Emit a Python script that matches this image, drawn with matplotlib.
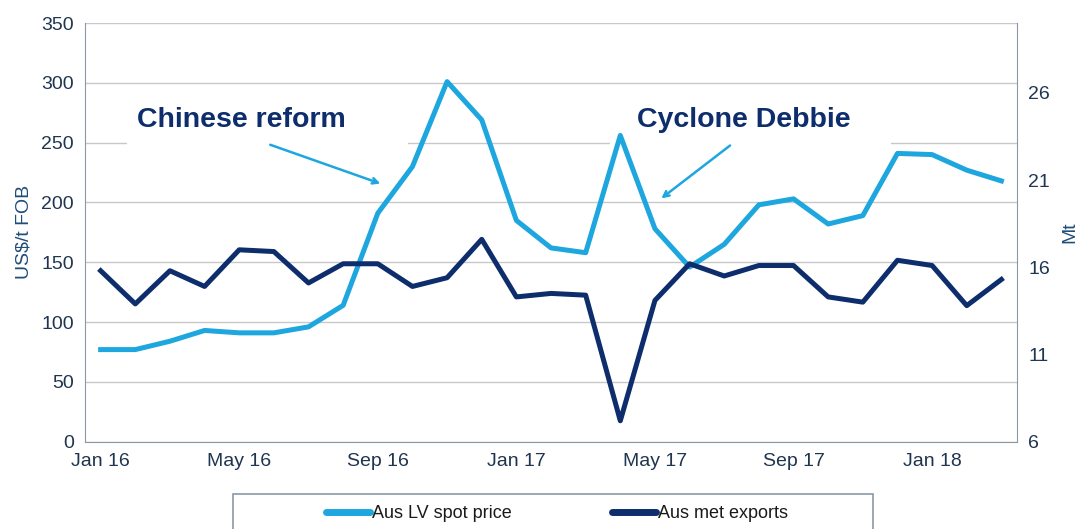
import matplotlib.pyplot as plt
from matplotlib.patches import Rectangle
from matplotlib.lines import Line2D

plt.rcParams['font.family'] = ['Liberation Sans', 'DejaVu Sans']

months = ["Jan 16", "Feb 16", "Mar 16", "Apr 16", "May 16", "Jun 16", "Jul 16", "Aug 16", "Sep 16",
          "Oct 16", "Nov 16", "Dec 16", "Jan 17", "Feb 17", "Mar 17", "Apr 17", "May 17", "Jun 17",
          "Jul 17", "Aug 17", "Sep 17", "Oct 17", "Nov 17", "Dec 17", "Jan 18", "Feb 18", "Mar 18"]
spot_price = [77, 77, 84, 93, 91, 91, 96, 114, 191, 230, 301, 269, 185, 162, 158, 256, 178, 146,
              165, 198, 203, 182, 189, 241, 240, 227, 218]
met_exports = [15.8, 13.9, 15.8, 14.9, 17.0, 16.9, 15.1, 16.2, 16.2, 14.9, 15.4, 17.6, 14.3, 14.5,
               14.4, 7.2, 14.1, 16.2, 15.5, 16.1, 16.1, 14.3, 14.0, 16.4, 16.1, 13.8, 15.3]
series_names = ["Aus LV spot price", "Aus met exports"]

light = "#1ea6df"
navy = "#0d2d6c"
tick_col = "#1f3550"

fig = plt.figure(figsize=(10.78, 5.29), dpi=100)
ax = fig.add_axes([0.0789, 0.165, 0.8645, 0.7915])
ax2 = ax.twinx()

x = list(range(len(months)))
ax.plot(x, spot_price, color=light, lw=3.6, zorder=3)
ax2.plot(x, met_exports, color=navy, lw=3.6, zorder=3)

ax.set_xlim(-0.45, len(months) - 0.55)
ax.set_ylim(0, 350)
ax.set_yticks(range(0, 351, 50))
ax2.set_ylim(6, 30)
ax2.set_yticks([6, 11, 16, 21, 26])

ax.set_xticks(x[::4])
ax.set_xticklabels(months[::4])
ax.grid(axis='y', color="#c8c8c8", lw=1)
ax.set_axisbelow(True)

for a in (ax, ax2):
    a.tick_params(length=0, labelsize=14, colors=tick_col, pad=8)
    a.spines['top'].set_visible(False)
    for s in ('left', 'right', 'bottom'):
        a.spines[s].set_color("#8a98a6")
ax2.spines['left'].set_visible(False)
ax2.spines['bottom'].set_visible(False)
ax.spines['right'].set_visible(False)

ax.set_ylabel("US$/t FOB", fontsize=14, color="#1f4e79", labelpad=6)
ax2.set_ylabel("Mt", fontsize=14, color="#1f4e79", rotation=90, labelpad=8)

# white boxes behind the callouts (break the gridline)
for bx in (0.045, 0.563):
    ax.add_patch(Rectangle((bx, 0.697), 0.302, 0.12, transform=ax.transAxes,
                           facecolor='white', edgecolor='none', zorder=2))

ax.annotate("", xy=(8.15, 215), xytext=(4.82, 249),
            arrowprops=dict(arrowstyle="->", color=light, lw=1.8), zorder=5)
ax.text(1.06, 269, "Chinese reform", fontsize=20.5, fontweight='bold', color=navy,
        va='center', ha='left', zorder=6)
ax.annotate("", xy=(16.12, 202), xytext=(18.23, 249),
            arrowprops=dict(arrowstyle="->", color=light, lw=1.8), zorder=5)
ax.text(15.48, 269, "Cyclone Debbie", fontsize=20.5, fontweight='bold', color=navy,
        va='center', ha='left', zorder=6)

# legend box running off the bottom edge
fig.patches.append(Rectangle((233 / 1078, -0.05), 640 / 1078, 1 - 494 / 529 + 0.05,
                             transform=fig.transFigure, facecolor='white',
                             edgecolor="#8a98a6", lw=1.2))
handles = [Line2D([], [], color=light, lw=5, solid_capstyle='round'),
           Line2D([], [], color=navy, lw=5, solid_capstyle='round')]
fig.legend(handles=handles, labels=series_names, loc='center',
           bbox_to_anchor=(557 / 1078, 1 - 514 / 529),
           ncol=2, fontsize=13, frameon=False, handlelength=2.4, handletextpad=0.1,
           columnspacing=5.6, labelcolor="#1a1a1a")

plt.savefig("out.png")
